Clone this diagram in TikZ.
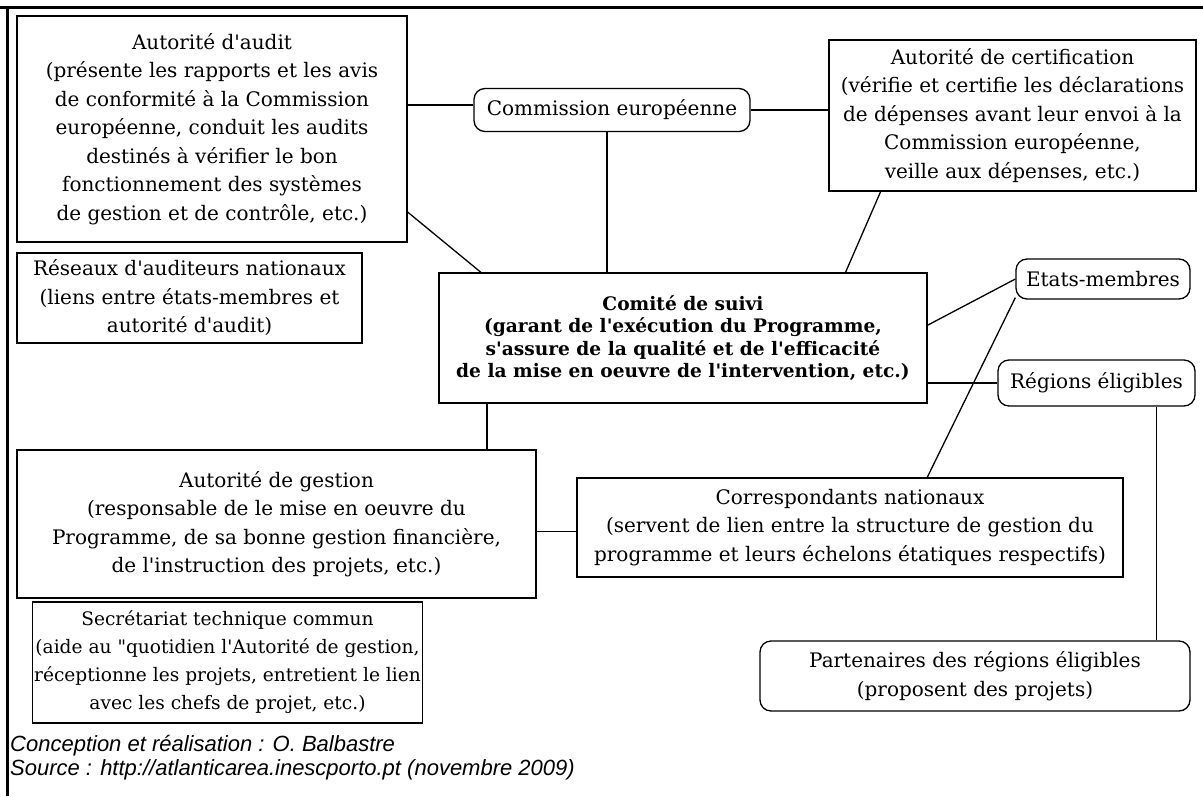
\documentclass[tikz,border=0pt]{standalone}
\usepackage{fontspec}
\setmainfont{DejaVu Serif}
\newfontfamily\notefont{Liberation Sans}
\usepackage{tikz}
\usetikzlibrary{positioning,calc}
\newcommand{\apos}{\textquotesingle}
\tikzset{
  box/.style={draw=black,line width=1.3pt,fill=white,inner sep=2pt,align=center,
              font=\fontsize{20}{28.5}\selectfont},
  roundbox/.style={box,rounded corners=11pt},
  mainbox/.style={box,font=\fontsize{18.6}{22.5}\selectfont\bfseries},
  smallbox/.style={box,font=\fontsize{18.6}{28}\selectfont},
  link/.style={draw=black,line width=1.3pt},
  frameline/.style={draw=black,line width=3pt},
  note/.style={anchor=west,inner sep=0pt,font=\notefont\itshape\fontsize{22}{25}\selectfont},
}

\begin{document}
\begin{tikzpicture}[x=1pt,y=-1pt]
  \useasboundingbox (0,0) rectangle (1203,796);
  \draw[frameline] (0,7) -- (7,7) -- (1203,7);
  \draw[frameline] (7,7) -- (7,796);
  % boxes
  \node[box,minimum width=390pt,minimum height=226pt] (audit) at (212,129)
    {Autorité d\apos audit\\ (présente les rapports et les avis\\ de conformité à la Commission\\
     européenne, conduit les audits\\ destinés à vérifier le bon\\
     fonctionnement des systèmes\\ de gestion et de contrôle, etc.)};
  \node[roundbox,minimum width=276pt,minimum height=43pt] (commission) at (612,110)
    {Commission européenne};
  \node[box,minimum width=367pt,minimum height=151pt] (certif) at (1012.5,115.5)
    {Autorité de certification\\ (vérifie et certifie les déclarations\\
     de dépenses avant leur envoi à la\\ Commission européenne,\\ veille aux dépenses, etc.)};
  \node[box,minimum width=345pt,minimum height=90pt] (reseaux) at (189.5,298)
    {Réseaux d\apos auditeurs nationaux\\ (liens entre états-membres et\\ autorité d\apos audit)};
  \node[mainbox,minimum width=488pt,minimum height=130pt] (comite) at (683,338)
    {Comité de suivi\\ (garant de l\apos exécution du Programme,\\
     s\apos assure de la qualité et de l\apos efficacité\\ de la mise en oeuvre de l\apos intervention, etc.)};
  \node[roundbox,minimum width=174pt,minimum height=40pt] (etats) at (1103,279)
    {Etats-membres};
  \node[roundbox,minimum width=197pt,minimum height=46pt] (regions) at (1096.5,383)
    {Régions éligibles};
  \node[box,minimum width=519pt,minimum height=148pt] (gestion) at (276.5,524)
    {Autorité de gestion\\ (responsable de le mise en oeuvre du\\
     Programme, de sa bonne gestion financière,\\ de l\apos instruction des projets, etc.)};
  \node[box,minimum width=546pt,minimum height=99pt] (corresp) at (850,527.5)
    {Correspondants nationaux\\ (servent de lien entre la structure de gestion du\\
     programme et leurs échelons étatiques respectifs)};
  \node[smallbox,minimum width=389pt,minimum height=121pt] (secret) at (227.5,662.5)
    {Secrétariat technique commun\\ (aide au \textquotedbl quotidien l\apos Autorité de gestion,\\
     réceptionne les projets, entretient le lien\\ avec les chefs de projet, etc.)};
  \node[roundbox,minimum width=430pt,minimum height=70pt] (partners) at (975,676)
    {Partenaires des régions éligibles\\ (proposent des projets)};
  % links
  \draw[link] ([yshift=5pt]commission.west) -- ([yshift=5pt]commission.west -| audit.east);
  \draw[link] (commission.east) -- (commission.east -| certif.west);
  \draw[link] ([xshift=-5pt]commission.south) -- ([xshift=-5pt]commission.south |- comite.north);
  \draw[link] (audit.-23) -- (comite.162);
  \draw[link] (certif.-150) -- (comite.22);
  \draw[link] (comite.3) -- (etats.west);
  \draw[link] (corresp.33) -- (etats.-168);
  \draw[link] (regions.west) -- (regions.west -| comite.east);
  \draw[link] ([xshift=60pt]regions.south) -- ([xshift=60pt]regions.south |- partners.north);
  \draw[link] ([xshift=-196pt]comite.south) -- ([xshift=-196pt]comite.south |- gestion.north);
  \draw[link] ([yshift=-4pt]corresp.west) -- ([yshift=-4pt]corresp.west -| gestion.east);
  % credits
  \node[note] (credit) at (10,746) {Conception et réalisation : O. Balbastre};
  \node[note,below=3pt of credit.south west,anchor=north west] (source)
    {Source : http://atlanticarea.inescporto.pt (novembre 2009)};
\end{tikzpicture}
\end{document}
